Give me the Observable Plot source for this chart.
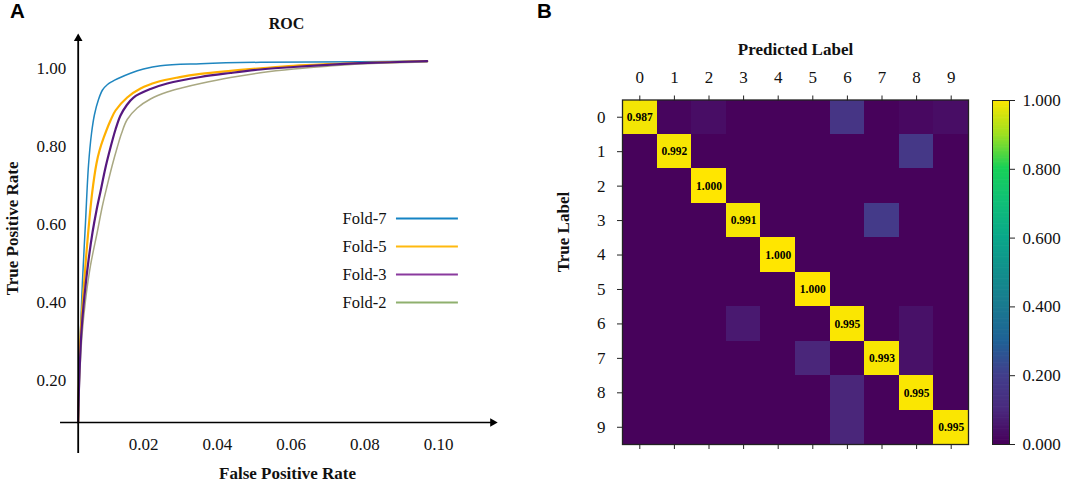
<!DOCTYPE html>
<html>
<head>
<meta charset="utf-8">
<script src="https://cdn.jsdelivr.net/npm/d3@7"></script>
<script src="https://cdn.jsdelivr.net/npm/@observablehq/plot@0.6"></script>
<style>
html,body{margin:0;padding:0;background:#fff;}
#chart{position:relative;width:1065px;height:482px;overflow:hidden;}
#chart svg{position:absolute;left:0;top:0;max-width:none;}
.panel{position:absolute;font:bold 20.5px "Liberation Sans",sans-serif;color:#000;line-height:20px;}
</style>
</head>
<body>
<div id="chart">
  <div class="panel" style="left:10px;top:1px">A</div>
  <div class="panel" style="left:537px;top:1px">B</div>
</div>
<script>
const fold7X = [.00229,.00237,.00256,.00286,.00346,.00427,.00508,.0059,.00671,.0078,.00888,.01024,.01159,.01295,.01647,.02,.02461,.03546,.05173,.07885,.09693];
const fold7Y = [.0923,.1487,.2256,.3154,.4564,.6051,.7513,.8333,.8821,.9205,.9449,.959,.9672,.9736,.9877,.9985,1.0072,1.0123,1.0159,1.0172,1.0192];
const fold5X = [.00229,.00243,.00264,.003,.00373,.00481,.00609,.00725,.00807,.00923,.01105,.01241,.01558,.01919,.02372,.02949,.03546,.04359,.05173,.06068,.0699,.07885,.09693];
const fold5Y = [.0923,.1744,.2513,.3282,.4308,.559,.6821,.7564,.7897,.8231,.8667,.8923,.9256,.9487,.9654,.9774,.9864,.9941,1.0005,1.0069,1.011,1.0141,1.0187];
const fold3X = [.00229,.00248,.00278,.00319,.004,.00508,.00617,.00725,.00834,.0097,.01105,.01241,.01376,.01539,.01729,.0219,.02643,.03546,.04359,.05173,.06068,.0699,.07885,.09693];
const fold3Y = [.0923,.1744,.2513,.3282,.4179,.5077,.5795,.6359,.6846,.7462,.7974,.8436,.8795,.9051,.9256,.9474,.9615,.9782,.9885,.9974,1.0038,1.0095,1.0136,1.0187];
const fold2X = [.00229,.00251,.00283,.00332,.00427,.00563,.00744,.00888,.01016,.01151,.01287,.01403,.01558,.01829,.0219,.02643,.03085,.03546,.04359,.05173,.06068,.0699,.07885,.09693];
const fold2Y = [.0923,.1615,.2385,.3154,.4051,.4949,.5795,.6487,.7,.7513,.7974,.8333,.8692,.8987,.9218,.9397,.9513,.9615,.9769,.989,.9987,1.0059,1.0115,1.0167];

const foldNames = ["Fold-7", "Fold-5", "Fold-3", "Fold-2"];
const curveColors = ["#1f86bf", "#ffb000", "#56187f", "#a9a882"];
const curveWidths = [1.5, 2.2, 2.2, 1.5];
const legendColors = ["#1583c4", "#ffb90f", "#8a3a9e", "#8fb06e"];
const legendY = [.6154, .5436, .4718, .4];
const rocXTicks = [.02, .04, .06, .08, .10];
const rocYTicks = [.2, .4, .6, .8, 1];

const classes = [0,1,2,3,4,5,6,7,8,9];
const row0 = [.987,.012,.03,.004,.004,.004,.15,.004,.02,.03];
const row1 = [.004,.992,.004,.004,.004,.004,.004,.004,.165,.004];
const row2 = [.004,.004,1,.004,.004,.004,.004,.004,.004,.004];
const row3 = [.004,.004,.004,.991,.004,.004,.004,.175,.004,.004];
const row4 = [.004,.004,.004,.004,1,.004,.004,.004,.004,.004];
const row5 = [.004,.004,.004,.004,.004,1,.004,.004,.004,.004];
const row6 = [.004,.004,.004,.06,.004,.004,.995,.004,.04,.004];
const row7 = [.004,.004,.004,.004,.004,.09,.004,.993,.04,.004];
const row8 = [.004,.004,.004,.004,.004,.004,.09,.004,.995,.004];
const row9 = [.004,.004,.004,.004,.004,.004,.09,.004,.004,.995];
const matrix = [row0,row1,row2,row3,row4,row5,row6,row7,row8,row9];
const colorTicks = [0,.2,.4,.6,.8,1];
const colorDomain = [0,.1,.2,.3,.4,.5,.6,.7,.8,.9,1];
const colorStops = ["#47005a","#4a2a7e","#423f8c","#1f6296","#1a7a90","#128f8c","#0aa88a","#10bf78","#18d058","#a0e020","#ffe600"];

const serif = "'Liberation Serif','Times New Roman',serif";
const W = 1065, H = 482;
const ink = "#111";

const zip = (xs, ys, i) => xs.map((x, k) => ({x, y: ys[k], i}));
const series = [zip(fold7X, fold7Y, 0), zip(fold5X, fold5Y, 1), zip(fold2X, fold2Y, 3), zip(fold3X, fold3Y, 2)];
const legendRows = foldNames.map((name, i) => ({name, y: legendY[i], color: legendColors[i]}));

const roc = Plot.plot({
  width: W, height: H,
  marginLeft: 77.7, marginRight: W - 495, marginTop: 35, marginBottom: 60,
  style: {background: "none", fontFamily: serif, fontSize: "17px", color: ink},
  x: {domain: [0, .115], range: [69.25, 69.25 + .115 * 3687.5]},
  y: {domain: [0, 1.1], range: [458, 458 - 1.1 * 390]},
  marks: [
    Plot.axisX({ticks: rocXTicks, tickSize: 0, tickPadding: 15, tickFormat: ".2f", label: null, anchor: "bottom"}),
    Plot.axisY({ticks: rocYTicks, tickSize: 0, tickPadding: 12, tickFormat: ".2f", label: null, anchor: "left"}),
    ...series.map(s => Plot.line(s, {
      x: "x", y: "y", curve: "catmull-rom",
      stroke: curveColors[s[0].i], strokeWidth: curveWidths[s[0].i]
    })),
    Plot.ruleX([.00229], {y1: .0128, y2: 1.077, stroke: "#000", strokeWidth: 1.8}),
    Plot.ruleY([.0923], {x1: -.0025, x2: .1145, stroke: "#000", strokeWidth: 1.6}),
    Plot.dot([{x: .00229, y: 1.077}], {x: "x", y: "y", symbol: "triangle", r: 3.2, fill: "#000", stroke: "none"}),
    Plot.dot([{x: .1147, y: .0923}], {x: "x", y: "y", symbol: "triangle", r: 3.2, fill: "#000", stroke: "none", rotate: 90}),
    Plot.ruleY(legendRows, {y: "y", x1: .0886, x2: .1054, stroke: "color", strokeWidth: 2}),
    Plot.text(legendRows, {x: .0859, y: "y", text: "name", textAnchor: "end", fontSize: 16.5, fill: ink}),
    Plot.text(["ROC"], {x: .0588, y: 1.115, fontSize: 16, fontWeight: "bold", fill: ink}),
    Plot.text(["False Positive Rate"], {x: .05905, y: -.0385, fontSize: 17, fontWeight: "bold", fill: ink}),
    Plot.text(["True Positive Rate"], {x: -.01553, y: .59, rotate: -90, fontSize: 17, fontWeight: "bold", fill: ink})
  ]
});

const cells = matrix.flatMap((row, r) => row.map((v, c) => ({r, c, v})));
const colorScale = {type: "linear", domain: colorDomain, range: colorStops};

const heat = Plot.plot({
  width: W, height: H,
  marginLeft: 622, marginRight: W - 968, marginTop: 99.5, marginBottom: H - 444,
  style: {background: "none", fontFamily: serif, fontSize: "17px", color: ink},
  x: {type: "band", domain: classes, padding: 0, round: false},
  y: {type: "band", domain: classes, padding: 0, round: false},
  color: colorScale,
  marks: [
    Plot.cell(cells, {x: "c", y: "r", fill: "v", shapeRendering: "crispEdges"}),
    Plot.text(cells.filter(d => d.r === d.c), {x: "c", y: "r", text: d => d.v.toFixed(3), fontSize: 11.5, fontWeight: "bold", fill: "#000"}),
    Plot.frame({stroke: "#222", strokeWidth: 1.3}),
    Plot.axisX({anchor: "top", tickSize: 5, tickPadding: 12, label: null, stroke: "#222"}),
    Plot.axisX({anchor: "bottom", tickSize: 5, tickFormat: () => "", label: null, stroke: "#222"}),
    Plot.axisY({anchor: "left", tickSize: 5, tickPadding: 12, label: null, stroke: "#222"}),
    Plot.text(["Predicted Label"], {frameAnchor: "top", dy: -57.5, fontSize: 17, fontWeight: "bold", fill: ink}),
    Plot.text(["True Label"], {frameAnchor: "left", rotate: -90, dx: -59, fontSize: 17, fontWeight: "bold", fill: ink})
  ]
});

const barStops = d3.range(0, 1, .004);
const bar = Plot.plot({
  width: W, height: H,
  marginLeft: 992, marginRight: W - 1009, marginTop: 100, marginBottom: H - 444,
  style: {background: "none", fontFamily: serif, fontSize: "17px", color: ink},
  x: {domain: [0, 1], axis: null},
  y: {domain: [0, 1]},
  color: colorScale,
  marks: [
    Plot.rect(barStops, {x1: 0, x2: 1, y1: d => d, y2: d => Math.min(1, d + .006), fill: d => d}),
    Plot.frame({stroke: "#222", strokeWidth: 1}),
    Plot.axisY({anchor: "right", ticks: colorTicks, tickSize: 5, tickPadding: 8, tickFormat: ".3f", label: null, stroke: "#222"})
  ]
});

const root = document.getElementById("chart");
root.prepend(bar);
root.prepend(heat);
root.prepend(roc);
</script>
</body>
</html>
